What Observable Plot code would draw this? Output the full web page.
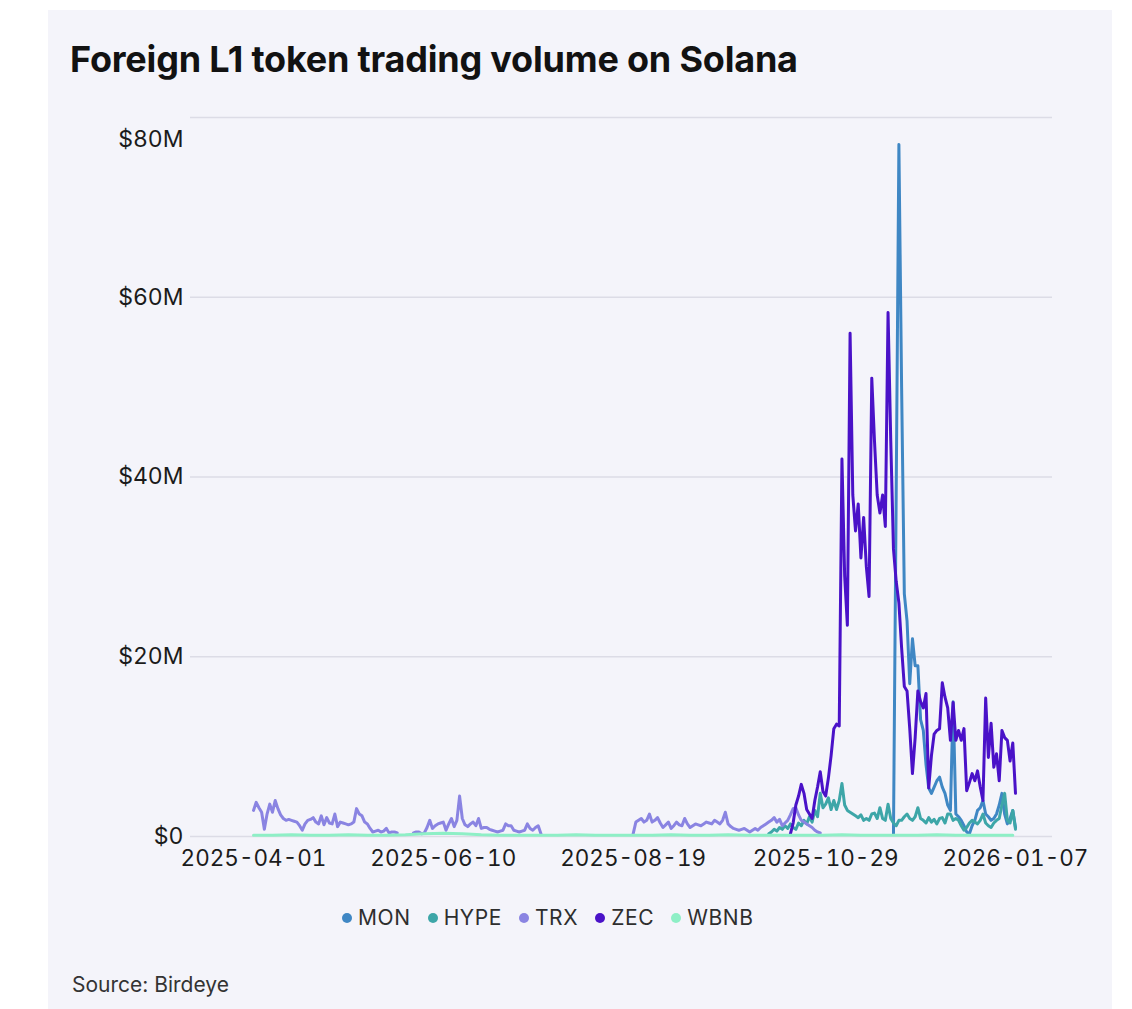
<!DOCTYPE html>
<html><head><meta charset="utf-8">
<script src="https://cdn.jsdelivr.net/npm/d3@7"></script>
<script src="https://cdn.jsdelivr.net/npm/@observablehq/plot@0.6"></script>
<style>
body{margin:0;background:#fff;font-family:Inter,sans-serif;width:1132px;height:1009px;overflow:hidden;position:relative;}
#card{position:absolute;left:48px;top:10px;width:1064px;height:1010px;background:#f4f4fa;}
#title{position:absolute;left:70px;top:37px;font-size:36px;font-weight:700;color:#121212;letter-spacing:-0.2px;white-space:nowrap;}
#chart{position:absolute;left:0;top:100px;}
#legend{position:absolute;top:905px;left:342px;display:flex;gap:17px;font-size:21px;letter-spacing:0.6px;color:#2e2e2e;}
#legend span.item{display:flex;align-items:center;gap:6px;}
#legend span.dot{width:10px;height:10px;border-radius:50%;display:inline-block;}
#source{position:absolute;left:72px;top:972px;font-size:21px;color:#333;}
</style></head>
<body>
<div id="card"></div>
<div id="title">Foreign L1 token trading volume on Solana</div>
<div id="chart"></div>
<div id="legend"></div>
<div id="source">Source: Birdeye</div>
<script>
// ---- data (daily values, $M) ----
const seriesNames = ["MON", "HYPE", "TRX", "ZEC", "WBNB"];
const seriesColors = ["#3f87c4", "#3da6a8", "#8a84e2", "#4a12c8", "#8eefc6"];
const xTicks = ["2025-04-01", "2025-06-10", "2025-08-19", "2025-10-29", "2026-01-07"];
const yTicks = [0, 20, 40, 60, 80];

const MON_START = "2025-11-23";
const MON = [0.3, 38, 77, 50, 27, 24, 17, 22, 19, 19, 13, 11.8, 8, 5.4, 4.8, 5.5, 6.2, 6.6, 5.5, 4.8,
  3.5, 2.9, 15, 2.5, 2.2, 1.8, 1.2, 0.5, 0.3, 1.2, 1.8, 2.9, 3.2, 4, 2.5, 2.2, 1.8, 2.0, 2.5, 3.5,
  4.8, 2.5, 1.4, 2.0, 2.9, 1.0];

const HYPE_START = "2025-10-08";
const HYPE = [0.3, 0.5, 0.8, 0.6, 1.0, 0.8, 1.2, 0.9, 1.4, 1.0, 0.8, 1.5, 1.2, 1.8, 1.4, 2.2, 1.6, 2.9, 2.2, 4.8,
  3.2, 3.6, 4.3, 3.0, 4.0, 3.0, 4.0, 5.9, 3.5, 2.9, 2.7, 2.5, 2.3, 2.1, 2.4, 1.8, 2.0, 1.8, 2.5, 2.6,
  2.0, 3.2, 2.0, 1.8, 3.6, 2.0, 1.5, 1.2, 1.8, 1.8, 2.2, 2.5, 2.0, 1.8, 2.2, 3.2, 2.0, 1.8, 1.5, 2.1,
  1.6, 1.9, 1.4, 2.0, 2.1, 1.5, 2.5, 2.5, 1.8, 2.0, 1.8, 1.2, 0.7, 1.0, 1.5, 1.8, 1.6, 1.4, 1.8, 2.5,
  1.5, 1.2, 1.0, 1.5, 1.8, 2.0, 3.5, 4.8, 1.8, 1.5, 2.9, 0.8];

const TRX_START = "2025-04-01";
const TRX = [2.9, 3.8, 3.2, 2.7, 0.8, 2.5, 3.6, 2.7, 4.0, 3.1, 2.4, 2.0, 1.8, 1.9, 1.8, 1.7, 1.6, 1.2, 0.7, 1.4,
  1.8, 1.9, 2.1, 1.6, 1.4, 2.3, 1.3, 2.1, 1.5, 1.4, 2.5, 1.1, 1.6, 1.5, 1.4, 1.3, 1.4, 1.6, 3.1, 2.5,
  2.3, 1.6, 1.4, 0.9, 0.5, 0.6, 0.7, 0.5, 0.6, 0.9, 0.4, 0.5, 0.5, 0.4, null, null, null, null, null, 0.4,
  0.5, 0.5, 0.3, 0.4, 1.0, 1.8, 0.9, 1.2, 1.4, 1.5, 1.6, 0.7, 1.4, 2.0, 1.1, 1.8, 4.5, 2.0, 1.3, 1.1,
  1.4, 1.6, 1.2, 2.0, 0.9, 1.0, 1.0, 0.8, 0.7, 0.6, 0.5, 0.6, 0.7, 1.4, 1.2, 1.2, 0.7, 0.6, 0.5, 0.6,
  0.7, 1.4, 0.9, 0.7, 1.0, 1.2, 0.3, null, null, null, null, null, null, null, null, null, null, null, null, null,
  null, null, null, null, null, null, null, null, null, null, null, null, null, null, null, null, null, null, null, null,
  0.3, 1.6, 1.8, 2.0, 1.6, 1.8, 2.5, 1.6, 1.8, 2.1, 1.5, 1.0, 1.3, 1.6, 0.9, 1.2, 1.6, 1.3, 1.2, 2.0,
  1.4, 1.0, 1.2, 1.4, 1.3, 1.2, 1.4, 1.6, 1.5, 1.4, 1.8, 1.6, 1.4, 1.8, 2.7, 1.4, 1.1, 0.9, 0.8, 0.7,
  0.8, 0.9, 0.7, 0.5, 0.7, 0.9, 0.7, 1.0, 1.2, 1.4, 1.6, 1.8, 2.1, 1.6, 1.9, 1.2, 1.5, 1.8, 2.4, 3.1,
  3.2, 2.4, 1.8, 1.6, 1.4, 1.2, 1.0, 0.7, 0.5, 0.4];

const ZEC_START = "2025-10-16";
const ZEC = [0.3, 1.5, 3.5, 4.5, 5.8, 4.8, 3.0, 2.5, 2.0, 4.0, 5.5, 7.2, 5.0, 4.5, 6.5, 9.0, 12.0, 12.5, 12.3, 42,
  29, 23.5, 56, 38, 34, 37, 31, 35.5, 30, 26.7, 51, 44, 38, 36, 38, 34.5, 58.3, 44, 32, 28.4,
  26, 21, 16.7, 16.2, 12, 7, 11, 16.2, 15, 14.3, 15.9, 5.4, 9, 11.4, 11.8, 12, 17.1, 15.5, 14.3, 10.7,
  14.9, 10.7, 11.8, 10.7, 12, 5.1, 6, 7, 6.2, 7.3, 5.5, 4, 15.4, 8.8, 12.6, 7.7, 9.2, 6.2, 11.8, 11,
  10.7, 8.4, 10.4, 4.8];

const WBNB_START = "2025-04-01"; // one value every 7 days
const WBNB = [0.15, 0.15, 0.2, 0.15, 0.15, 0.2, 0.15, 0.15, 0.2, 0.3, 0.35, 0.3, 0.2, 0.15, 0.15, 0.15, 0.15, 0.2, 0.15, 0.15,
  0.15, 0.15, 0.2, 0.15, 0.15, 0.2, 0.15, 0.15, 0.15, 0.15, 0.15, 0.2, 0.15, 0.15, 0.15, 0.15, 0.2, 0.15, 0.15, 0.15, 0.15];

// ---- build table ----
function rows(name, start, step, values) {
  const t0 = d3.isoParse(start);
  return values.map((v, i) => ({series: name, date: d3.utcDay.offset(t0, i * step), value: v == null ? NaN : v * 1e6}));
}
const data = [
  ...rows("MON", MON_START, 1, MON),
  ...rows("HYPE", HYPE_START, 1, HYPE),
  ...rows("TRX", TRX_START, 1, TRX),
  ...rows("ZEC", ZEC_START, 1, ZEC),
  ...rows("WBNB", WBNB_START, 7, WBNB)
];
const fmtY = v => v === 0 ? "$0" : `$${v / 1e6}M`;
const yT = yTicks.map(v => v * 1e6);

const chart = Plot.plot({
  width: 1132,
  height: 781,
  marginLeft: 190,
  marginRight: 80,
  marginTop: 17,
  marginBottom: 45,
  style: {background: "transparent", fontFamily: "Inter, sans-serif", color: "#1b1b1b", overflow: "visible"},
  x: {type: "utc", domain: [d3.isoParse(xTicks[0]), d3.isoParse(xTicks[4])], insetLeft: 63, insetRight: 37},
  y: {domain: [0, 80e6]},
  color: {domain: seriesNames, range: seriesColors},
  marks: [
    Plot.ruleY(yT, {stroke: "#dcdce6", strokeWidth: 1.6}),
    Plot.axisY(yT.slice(0, 4), {tickSize: 0, tickPadding: 7, tickFormat: fmtY, fontSize: 23, label: null}),
    Plot.axisY(yT.slice(4), {tickSize: 0, tickPadding: 7, tickFormat: fmtY, fontSize: 23, label: null, dy: 22}),
    Plot.axisX(xTicks.map(d3.isoParse), {tickSize: 0, tickPadding: 14, tickFormat: d3.utcFormat("%Y-%m-%d"), fontSize: 22.5, label: null}),
    Plot.line(data, {x: "date", y: "value", z: "series", stroke: "series", strokeWidth: 3, strokeLinejoin: "round", curve: "linear"})
  ]
});
document.getElementById("chart").appendChild(chart);

const legend = document.getElementById("legend");
seriesNames.forEach((n, i) => {
  const it = document.createElement("span");
  it.className = "item";
  it.innerHTML = `<span class="dot" style="background:${seriesColors[i]}"></span><span>${n}</span>`;
  legend.appendChild(it);
});
</script>
</body></html>
